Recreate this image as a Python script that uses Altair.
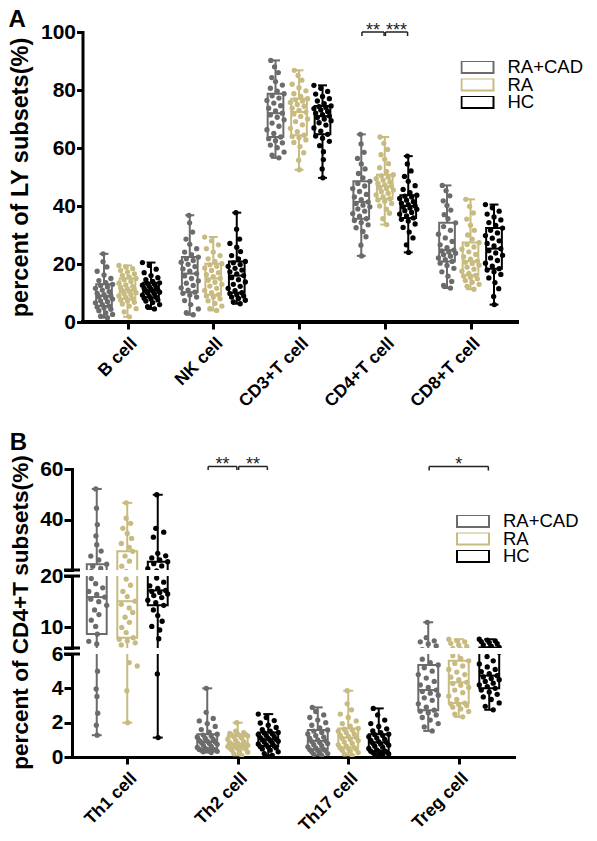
import altair as alt
import pandas as pd

FONT = "Liberation Sans"
GROUPS = ["RA+CAD", "RA", "HC"]
GROUP_COLORS = ["#6b6b6b", "#c8bb80", "#000000"]
CATS_A = ["B cell", "NK cell", "CD3+T cell", "CD4+T cell", "CD8+T cell"]
CATS_B = ["Th1 cell", "Th2 cell", "Th17 cell", "Treg cell"]
YTICKS_A = [0, 20, 40, 60, 80, 100]
YTICKS_B_TOP = [20, 40, 60]
YTICKS_B_MID = [6, 10, 20]
YTICKS_B_BOT = [0, 2, 4, 6]

# ---------------- Panel A values (percent of LY subsets) ----------------
A_B_RACAD = [1.5, 2.0, 2.6, 3.1, 3.9, 4.4, 4.9, 5.2, 5.5, 6.0, 6.6, 7.0, 7.3, 7.9, 8.4, 8.7, 9.0, 9.4, 9.9, 10.5, 11.0, 11.6, 12.1, 12.6, 13.0, 13.6, 14.3, 15.0, 16.2, 17.5, 19.0, 20.8, 23.5]
A_B_RA = [1.8, 3.5, 4.6, 5.5, 6.2, 6.8, 7.2, 7.6, 8.0, 8.5, 9.0, 9.4, 9.8, 10.1, 10.5, 10.8, 11.0, 11.4, 11.9, 12.3, 12.8, 13.4, 14.0, 14.6, 15.0, 15.5, 16.1, 16.6, 17.2, 17.8, 18.4, 19.0, 19.5]
A_B_HC = [4.5, 5.3, 6.0, 6.7, 7.2, 7.6, 7.9, 8.2, 8.5, 8.9, 9.3, 9.7, 10.0, 10.3, 10.6, 10.8, 11.0, 11.3, 11.6, 11.9, 12.3, 12.7, 13.0, 13.2, 13.5, 14.0, 14.6, 15.3, 16.0, 17.0, 18.2, 19.5, 20.5]
A_NK_RACAD = [2.5, 3.2, 4.5, 6.0, 7.4, 8.6, 9.3, 9.9, 10.3, 11.0, 11.8, 12.6, 13.4, 14.2, 15.0, 15.9, 16.7, 17.5, 18.3, 19.1, 19.9, 20.6, 21.2, 21.8, 22.4, 23.2, 24.1, 25.3, 26.8, 28.6, 31.0, 34.2, 36.8]
A_NK_RA = [4.0, 4.6, 5.5, 6.4, 7.3, 8.0, 8.6, 9.0, 9.4, 10.1, 10.9, 11.6, 12.4, 13.0, 13.7, 14.4, 15.0, 15.6, 16.3, 17.0, 17.8, 18.6, 19.2, 19.7, 20.1, 20.9, 21.8, 22.9, 24.1, 25.3, 26.6, 28.0, 29.3]
A_NK_HC = [6.3, 6.9, 7.5, 8.1, 8.6, 9.0, 9.4, 9.8, 10.1, 10.8, 11.6, 12.3, 13.0, 13.8, 14.6, 15.3, 16.0, 16.6, 17.3, 17.9, 18.5, 19.2, 19.8, 20.4, 20.9, 21.8, 22.9, 24.3, 25.8, 27.1, 28.6, 32.0, 37.7]
A_CD3_RACAD = [56.6, 57.5, 58.6, 60.1, 61.0, 61.8, 62.5, 63.2, 63.8, 65.0, 66.3, 67.5, 68.6, 69.7, 70.6, 71.4, 72.0, 72.8, 73.7, 74.6, 75.5, 76.4, 77.2, 78.0, 78.7, 79.6, 80.6, 81.7, 82.9, 84.3, 86.0, 88.0, 90.2]
A_CD3_RA = [52.5, 55.8, 58.4, 60.5, 61.9, 62.8, 63.5, 64.0, 64.4, 65.6, 66.8, 68.0, 69.1, 70.0, 70.9, 71.7, 72.4, 73.0, 73.7, 74.4, 75.0, 75.7, 76.2, 76.6, 77.0, 77.8, 78.7, 79.7, 80.8, 82.0, 83.4, 85.0, 86.8]
A_CD3_HC = [49.7, 52.8, 56.0, 58.7, 60.8, 62.3, 63.4, 64.1, 64.7, 65.8, 66.9, 67.9, 68.7, 69.4, 70.0, 70.5, 71.0, 71.5, 72.0, 72.6, 73.1, 73.6, 74.0, 74.3, 74.5, 75.3, 76.2, 77.0, 77.8, 78.6, 79.5, 80.6, 81.6]
A_CD4_RACAD = [22.8, 26.5, 29.4, 31.2, 32.5, 33.5, 34.3, 35.0, 35.6, 36.5, 37.4, 38.2, 39.0, 39.7, 40.3, 40.9, 41.4, 42.2, 43.1, 44.0, 45.0, 46.0, 46.9, 47.8, 48.5, 49.7, 51.2, 52.8, 54.5, 56.4, 58.5, 61.4, 64.7]
A_CD4_RA = [33.6, 35.6, 37.5, 38.9, 40.0, 40.9, 41.6, 42.1, 42.5, 43.2, 43.8, 44.4, 45.0, 45.5, 46.0, 46.4, 46.8, 47.3, 47.8, 48.3, 48.9, 49.4, 49.9, 50.4, 50.8, 51.9, 53.2, 54.6, 56.1, 57.7, 59.5, 61.6, 63.8]
A_CD4_HC = [24.0, 26.6, 29.0, 31.0, 32.6, 33.8, 34.8, 35.4, 35.9, 36.6, 37.2, 37.8, 38.4, 38.9, 39.3, 39.7, 40.0, 40.5, 41.0, 41.5, 42.0, 42.6, 43.1, 43.4, 43.7, 44.6, 45.7, 47.0, 48.5, 50.2, 52.1, 54.5, 57.2]
A_CD8_RACAD = [11.7, 12.6, 14.0, 15.8, 17.3, 18.5, 19.5, 20.3, 20.9, 21.5, 22.1, 22.7, 23.2, 23.7, 24.1, 24.5, 24.8, 25.6, 26.6, 27.8, 29.0, 30.3, 31.6, 32.9, 34.2, 35.6, 37.0, 38.6, 40.2, 41.8, 43.5, 45.3, 47.1]
A_CD8_RA = [11.3, 12.3, 13.0, 13.7, 14.3, 14.9, 15.4, 15.8, 16.1, 16.8, 17.5, 18.2, 18.9, 19.6, 20.2, 20.6, 21.0, 21.7, 22.5, 23.3, 24.2, 25.1, 25.9, 26.7, 27.4, 28.6, 30.0, 31.6, 33.4, 35.5, 37.6, 39.9, 42.3]
A_CD8_HC = [6.0, 8.8, 11.5, 13.6, 15.2, 16.4, 17.3, 17.9, 18.4, 19.3, 20.3, 21.2, 22.1, 23.0, 23.8, 24.6, 25.3, 26.2, 27.1, 28.0, 28.9, 29.8, 30.7, 31.6, 32.4, 33.3, 34.3, 35.2, 36.2, 37.2, 38.2, 39.4, 40.5]

# ---------------- Panel B values (percent of CD4+T subsets) ----------------
B_TH1_RACAD = [1.27, 1.85, 2.55, 3.53, 3.96, 5.0, 6.8, 7.3, 8.7, 10.2, 11.4, 12.5, 13.4, 14.3, 15.0, 15.5, 15.9, 16.4, 17.0, 17.7, 18.5, 19.5, 20.6, 21.5, 22.3, 24.0, 25.5, 27.5, 30.0, 33.5, 38.0, 44.5, 52.1]
B_TH1_RA = [2.0, 3.86, 5.3, 5.5, 6.6, 7.0, 7.4, 7.7, 8.0, 9.0, 10.0, 11.0, 12.0, 12.9, 13.8, 14.5, 15.1, 16.0, 17.0, 18.2, 19.4, 21.5, 23.5, 25.5, 27.4, 29.0, 30.5, 32.5, 34.5, 36.5, 38.5, 40.5, 46.6]
B_TH1_HC = [1.13, 4.84, 7.8, 9.5, 10.2, 11.2, 12.3, 13.4, 14.3, 14.8, 15.3, 15.8, 16.2, 16.5, 16.8, 17.0, 17.2, 17.6, 18.1, 18.8, 19.6, 20.5, 21.6, 22.5, 23.3, 24.0, 24.8, 25.6, 26.6, 33.0, 35.0, 36.5, 49.8]
B_TH2_RACAD = [0.26, 0.3, 0.33, 0.36, 0.39, 0.41, 0.43, 0.44, 0.45, 0.5, 0.56, 0.62, 0.68, 0.74, 0.8, 0.85, 0.88, 0.92, 0.97, 1.02, 1.08, 1.15, 1.22, 1.28, 1.33, 1.45, 1.6, 1.78, 1.95, 2.1, 2.25, 2.6, 4.0]
B_TH2_RA = [0.1, 0.2, 0.28, 0.35, 0.41, 0.46, 0.5, 0.53, 0.55, 0.58, 0.61, 0.64, 0.67, 0.69, 0.71, 0.73, 0.75, 0.79, 0.84, 0.9, 0.97, 1.04, 1.11, 1.18, 1.23, 1.25, 1.27, 1.3, 1.33, 1.37, 1.42, 1.5, 2.0]
B_TH2_HC = [0.1, 0.2, 0.3, 0.4, 0.47, 0.53, 0.58, 0.61, 0.64, 0.7, 0.76, 0.82, 0.87, 0.92, 0.96, 1.0, 1.03, 1.08, 1.13, 1.19, 1.25, 1.31, 1.36, 1.4, 1.43, 1.5, 1.6, 1.72, 1.85, 1.98, 2.12, 2.3, 2.5]
B_TH17_RACAD = [0.1, 0.15, 0.2, 0.26, 0.31, 0.36, 0.4, 0.43, 0.45, 0.52, 0.59, 0.66, 0.72, 0.78, 0.84, 0.9, 0.94, 1.0, 1.08, 1.16, 1.25, 1.34, 1.43, 1.51, 1.58, 1.7, 1.85, 2.0, 2.15, 2.3, 2.45, 2.65, 2.89]
B_TH17_RA = [0.1, 0.18, 0.26, 0.33, 0.4, 0.45, 0.5, 0.53, 0.55, 0.63, 0.71, 0.79, 0.87, 0.95, 1.02, 1.08, 1.13, 1.2, 1.27, 1.34, 1.42, 1.5, 1.57, 1.62, 1.66, 1.8, 1.95, 2.1, 2.3, 2.5, 2.75, 3.1, 3.86]
B_TH17_HC = [0.1, 0.14, 0.18, 0.22, 0.26, 0.29, 0.32, 0.34, 0.35, 0.42, 0.5, 0.57, 0.63, 0.69, 0.75, 0.8, 0.85, 0.9, 0.96, 1.03, 1.1, 1.18, 1.25, 1.3, 1.33, 1.42, 1.52, 1.64, 1.78, 1.95, 2.15, 2.45, 2.83]
B_TREG_RACAD = [1.52, 1.75, 1.95, 2.15, 2.3, 2.45, 2.58, 2.67, 2.73, 2.9, 3.1, 3.3, 3.45, 3.6, 3.72, 3.82, 3.9, 4.05, 4.2, 4.4, 4.6, 4.8, 5.0, 5.2, 5.36, 5.5, 5.7, 6.4, 6.8, 7.2, 7.4, 8.0, 11.0]
B_TREG_RA = [2.34, 2.5, 2.65, 2.8, 2.9, 3.0, 3.06, 3.1, 3.14, 3.35, 3.55, 3.75, 3.9, 4.05, 4.18, 4.28, 4.35, 4.5, 4.65, 4.8, 4.95, 5.1, 5.3, 5.45, 5.6, 5.75, 5.9, 6.3, 6.6, 6.9, 7.2, 7.45, 7.7]
B_TREG_HC = [2.75, 2.95, 3.15, 3.35, 3.5, 3.65, 3.78, 3.9, 4.0, 4.1, 4.2, 4.3, 4.4, 4.5, 4.58, 4.66, 4.74, 4.85, 4.97, 5.1, 5.25, 5.42, 5.6, 5.85, 6.1, 6.35, 6.6, 6.85, 7.05, 7.25, 7.4, 7.55, 7.7]

# ---------------- significance brackets ----------------
SIG_A_CAT = ["CD4+T cell", "CD4+T cell"]
SIG_A_G1 = ["RA+CAD", "RA"]
SIG_A_G2 = ["RA", "HC"]
SIG_A_Y = [100, 100]
SIG_A_LOW = [98.6, 98.6]
SIG_A_TXT = ["**", "***"]

SIG_B_CAT = ["Th2 cell", "Th2 cell", "Treg cell"]
SIG_B_G1 = ["RA+CAD", "RA", "RA+CAD"]
SIG_B_G2 = ["RA", "HC", "HC"]
SIG_B_Y = [61, 61, 61]
SIG_B_LOW = [59.6, 59.6, 59.4]
SIG_B_TXT = ["**", "**", "*"]

# x-axis extent of each panel (category units)
XDOM_A = [-0.525, 4.548]
XDOM_B = [-0.5, 3.5]

A_TABLE = {
    ("B cell", "RA+CAD"): A_B_RACAD, ("B cell", "RA"): A_B_RA, ("B cell", "HC"): A_B_HC,
    ("NK cell", "RA+CAD"): A_NK_RACAD, ("NK cell", "RA"): A_NK_RA, ("NK cell", "HC"): A_NK_HC,
    ("CD3+T cell", "RA+CAD"): A_CD3_RACAD, ("CD3+T cell", "RA"): A_CD3_RA, ("CD3+T cell", "HC"): A_CD3_HC,
    ("CD4+T cell", "RA+CAD"): A_CD4_RACAD, ("CD4+T cell", "RA"): A_CD4_RA, ("CD4+T cell", "HC"): A_CD4_HC,
    ("CD8+T cell", "RA+CAD"): A_CD8_RACAD, ("CD8+T cell", "RA"): A_CD8_RA, ("CD8+T cell", "HC"): A_CD8_HC,
}
B_TABLE = {
    ("Th1 cell", "RA+CAD"): B_TH1_RACAD, ("Th1 cell", "RA"): B_TH1_RA, ("Th1 cell", "HC"): B_TH1_HC,
    ("Th2 cell", "RA+CAD"): B_TH2_RACAD, ("Th2 cell", "RA"): B_TH2_RA, ("Th2 cell", "HC"): B_TH2_HC,
    ("Th17 cell", "RA+CAD"): B_TH17_RACAD, ("Th17 cell", "RA"): B_TH17_RA, ("Th17 cell", "HC"): B_TH17_HC,
    ("Treg cell", "RA+CAD"): B_TREG_RACAD, ("Treg cell", "RA"): B_TREG_RA, ("Treg cell", "HC"): B_TREG_HC,
}


def long_table(cats, table):
    rows = []
    for (cat, grp), vals in table.items():
        for v in vals:
            rows.append({"cat_i": cats.index(cat), "grp": grp, "grp_i": GROUPS.index(grp), "value": v})
    return pd.DataFrame(rows)


def sig_table(cats, cat, g1, g2, y, low, txt):
    return pd.DataFrame({
        "cat_i": [cats.index(c) for c in cat],
        "g1": [GROUPS.index(g) for g in g1],
        "g2": [GROUPS.index(g) for g in g2],
        "y": y, "low": low, "txt": txt,
    })


def label_expr(cats):
    arr = ",".join("'" + c + "'" for c in cats)
    return f"[{arr}][datum.value]"


def legend_spec(x, y):
    return alt.Legend(
        title=None, orient="none", legendX=x, legendY=y,
        symbolType="M-1,-0.375H1V0.375H-1Z", symbolSize=1024, symbolStrokeWidth=2,
        symbolFillColor="white", clipHeight=12, rowPadding=-1.5, padding=0,
        labelFont=FONT, labelFontSize=18.5, labelFontWeight="normal", labelColor="black",
        labelOffset=13, labelLimit=300,
    )


def panel(df, xdom, ydom, width, height, xaxis, yaxis, off, half, cap, jit, disp,
          clip, legend=None, sig=None, breaks=None, title=None, baseline=None):
    xs = alt.Scale(domain=xdom, nice=False, zero=False)
    ys = alt.Scale(domain=ydom, nice=False, zero=False)

    def X(f):
        return alt.X(f"{f}:Q", scale=xs, axis=xaxis)

    def Y(f):
        return alt.Y(f"{f}:Q", scale=ys, axis=yaxis)

    def C():
        return alt.Color("grp:N", scale=alt.Scale(domain=GROUPS, range=GROUP_COLORS), legend=legend)

    base = alt.Chart(df)
    stats = base.transform_aggregate(
        vmin="min(value)", q1="q1(value)", med="median(value)", q3="q3(value)", vmax="max(value)",
        groupby=["cat_i", "grp", "grp_i"],
    ).transform_calculate(
        xc=f"datum.cat_i + (datum.grp_i - 1) * {off}",
    ).transform_calculate(
        xl=f"datum.xc - {half}", xr=f"datum.xc + {half}",
        cl=f"datum.xc - {cap}", cr=f"datum.xc + {cap}",
    )

    whisk = stats.mark_rule(strokeWidth=2, clip=clip).encode(
        x=X("xc"), y=Y("vmin"), y2="vmax", color=C())
    box = stats.mark_rect(filled=False, fill="white", strokeWidth=2, clip=clip).encode(
        x=X("xl"), x2="xr", y=Y("q1"), y2="q3", color=C())
    med = stats.mark_rule(strokeWidth=2, clip=clip).encode(
        x=X("xl"), x2="xr", y=Y("med"), color=C())
    caps = stats.transform_fold(["vmin", "vmax"], as_=["end", "v"]).mark_rule(
        strokeWidth=2, clip=clip).encode(x=X("cl"), x2="cr", y=Y("v"), color=C())

    d_val = disp("datum.value")
    d_prev = disp("datum.prev")
    d_next = disp("datum.nxt")
    pts = base.transform_window(
        rank="row_number()", prev="lag(value)", nxt="lead(value)",
        groupby=["cat_i", "grp"], sort=[alt.SortField("value", order="ascending")],
    ).transform_calculate(
        gp=f"isValid(datum.prev) ? {d_val} - {d_prev} : 99",
        gn=f"isValid(datum.nxt) ? {d_next} - {d_val} : 99",
    ).transform_calculate(
        amp="min(datum.gp, datum.gn) < 4 ? 1 : (min(datum.gp, datum.gn) < 7 ? 0.55 : 0.1)",
    ).transform_calculate(
        xj=f"datum.cat_i + (datum.grp_i - 1) * {off} + {jit} * datum.amp * (((datum.rank * 7) % 11) - 5) / 5",
    )
    dots = pts.mark_circle(size=28, opacity=1, clip=clip).encode(
        x=X("xj"), y=Y("value"),
        fill=alt.Fill("grp_i:N", scale=alt.Scale(domain=[0, 1, 2], range=GROUP_COLORS), legend=None))

    layers = [whisk, box, med, caps, dots]

    if baseline is not None:
        layers.append(alt.Chart(df).mark_rule(strokeWidth=3, color="black", strokeCap="square").encode(
            x=alt.X(datum=baseline[0], scale=xs, axis=xaxis), x2=alt.X2(datum=baseline[1]),
            y=alt.Y(datum=ydom[0], scale=ys, axis=yaxis)))

    if sig is not None:
        sb = alt.Chart(sig).transform_calculate(
            x1=f"datum.cat_i + (datum.g1 - 1) * {off} + 0.008",
            x2=f"datum.cat_i + (datum.g2 - 1) * {off} - 0.008",
        ).transform_calculate(xm="(datum.x1 + datum.x2) / 2")
        layers.append(sb.mark_rule(strokeWidth=1.5, color="#222222").encode(
            x=X("x1"), x2="x2", y=Y("y")))
        layers.append(sb.transform_fold(["x1", "x2"], as_=["side", "xe"]).mark_rule(
            strokeWidth=1.5, color="#222222").encode(x=X("xe"), y=Y("y"), y2="low"))
        layers.append(sb.mark_text(font=FONT, fontSize=18, baseline="alphabetic", dy=4,
                                   color="#222222").encode(x=X("xm"), y=Y("y"), text="txt:N"))

    if breaks is not None:
        bd = pd.DataFrame({"b": breaks})
        layers.append(alt.Chart(bd).mark_rule(strokeWidth=3, color="black", clip=False).encode(
            x=alt.value(-8), x2=alt.value(8), y=Y("b")))

    ch = alt.layer(*layers).properties(width=width, height=height)
    if title is not None:
        ch = ch.properties(title=title)
    return ch


df_a = long_table(CATS_A, A_TABLE)
df_b = long_table(CATS_B, B_TABLE)
sig_a = sig_table(CATS_A, SIG_A_CAT, SIG_A_G1, SIG_A_G2, SIG_A_Y, SIG_A_LOW, SIG_A_TXT)
sig_b = sig_table(CATS_B, SIG_B_CAT, SIG_B_G1, SIG_B_G2, SIG_B_Y, SIG_B_LOW, SIG_B_TXT)


def disp_a(f):
    return f"(({f}) * 2.9)"


def disp_b(f):
    return (f"(({f}) <= 6 ? ({f}) * 17.17 : (({f}) <= 20 ? 109 + (({f}) - 6) * 5.143 "
            f": 187 + (({f}) - 20) * 2.525))")


def x_axis(cats, domain=True):
    return alt.Axis(values=list(range(len(cats))), labelExpr=label_expr(cats), labelAngle=-45,
                    labelAlign="right", labelBaseline="top", labelFontSize=17.5, tickSize=7,
                    labelPadding=5, title=None, domain=domain)


# Panel A: its plot box starts 10.5 px left of its y axis, so both panels share a left origin
A_LEFT_PAD = 10.5 / 85.75
yaxis_a = alt.Axis(values=YTICKS_A, title="percent of LY subsets(%)", tickSize=6, labelPadding=1,
                   titlePadding=8, titleLimit=1000, titleFontSize=23.5, offset=-10.5)

panel_a = panel(df_a, [XDOM_A[0] - A_LEFT_PAD, XDOM_A[1]], [0, 100], 445.5, 290,
                x_axis(CATS_A, domain=False), yaxis_a,
                off=0.274, half=0.0915, cap=0.052, jit=0.1, disp=disp_a, clip=False,
                legend=legend_spec(388.5, 29), sig=sig_a, baseline=XDOM_A,
                title=alt.TitleParams("A", offset=-11))

yaxis_b_top = alt.Axis(values=YTICKS_B_TOP, labelExpr="datum.value == 20 ? '' : datum.label",
                       title=None, tickSize=8, labelPadding=1)
yaxis_b_mid = alt.Axis(values=YTICKS_B_MID, labelExpr="datum.value == 6 ? '' : datum.label",
                       title="percent of CD4+T subsets(%)", tickSize=8, labelPadding=1,
                       titlePadding=7, titleLimit=1000, titleFontSize=22.6)
yaxis_b_bot = alt.Axis(values=YTICKS_B_BOT, title=None, tickSize=8, labelPadding=1)

common_b = dict(off=0.276, half=0.09, cap=0.045, jit=0.09, disp=disp_b, clip=True)
b_top = panel(df_b, XDOM_B, [20, 60], 442, 101, None, yaxis_b_top,
              legend=legend_spec(384, 46), sig=sig_b, breaks=[20], **common_b)
b_mid = panel(df_b, XDOM_B, [6, 20], 442, 72, None, yaxis_b_mid, breaks=[6, 20], **common_b)
b_bot = panel(df_b, XDOM_B, [0, 6], 442, 103, x_axis(CATS_B), yaxis_b_bot, breaks=[6], **common_b)

panel_b = alt.vconcat(b_top, b_mid, b_bot, spacing=6, bounds="flush",
                      title=alt.TitleParams("B", offset=0)).resolve_scale(
    color="independent", fill="independent")

chart = alt.vconcat(panel_a, panel_b, spacing=20).resolve_scale(
    color="independent", fill="independent"
).properties(padding=0).configure(font=FONT).configure_view(stroke=None).configure_axis(
    domainColor="black", domainWidth=3, domainCap="square", tickColor="black", tickWidth=3,
    labelColor="black", labelFont=FONT, labelFontWeight="bold", labelFontSize=21,
    titleFont=FONT, titleFontWeight="bold", titleFontSize=22, titleColor="black", grid=False,
).configure_title(font=FONT, fontSize=24, fontWeight="bold", anchor="start", frame="bounds",
                  color="black")

chart.save("out.html", embed_options={"renderer": "svg", "actions": False})
